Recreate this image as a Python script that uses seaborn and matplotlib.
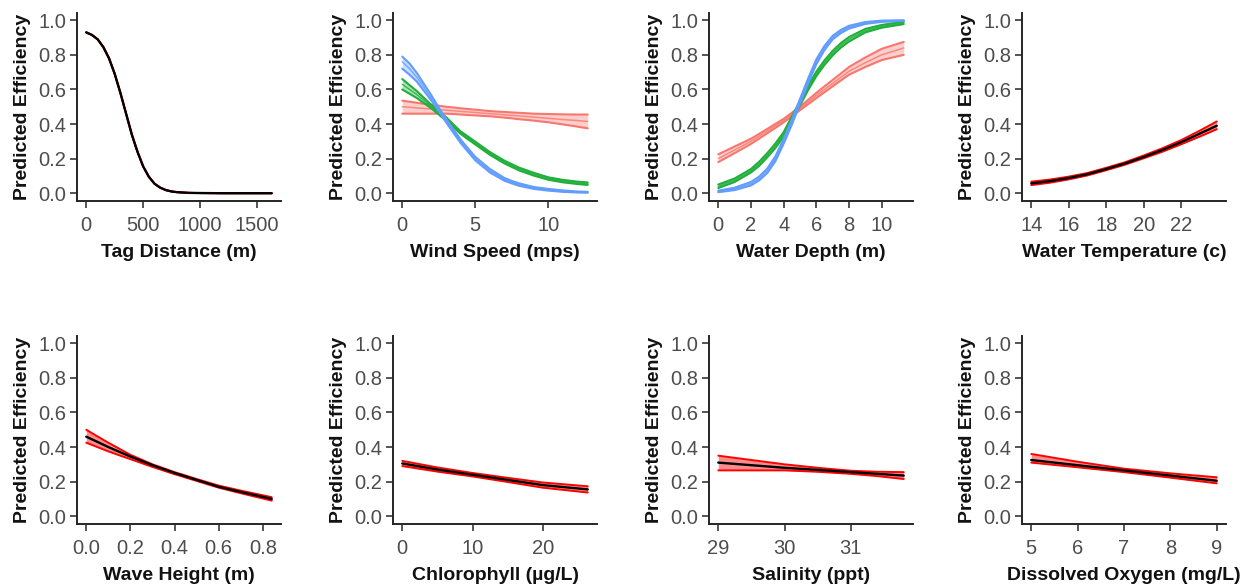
import matplotlib.pyplot as plt
import seaborn as sns

sns.set_style("ticks")
plt.rcParams['font.family'] = ['Liberation Sans', 'DejaVu Sans']

# colours of the three groups (ggplot default hues)
RED, GREEN, BLUE = "#F8766D", "#1FAF3A", "#619CFF"

# ---- values ----
# Tag Distance
tag_x = [0, 50, 100, 150, 200, 250, 300, 350, 400, 450, 500, 550, 600, 650, 700,
         750, 800, 900, 1000, 1200, 1400, 1630]
tag_mid = [0.93, 0.915, 0.89, 0.845, 0.78, 0.69, 0.58, 0.46, 0.34, 0.24, 0.155, 0.095,
           0.055, 0.032, 0.018, 0.01, 0.006, 0.002, 0.001, 0.0, 0.0, 0.0]

# Wind Speed, three groups
wind_x = [0, 0.5, 1, 1.5, 2, 2.5, 3, 3.5, 4, 4.5, 5, 5.5, 6, 6.5, 7, 7.5, 8,
          9, 10, 11, 12, 12.7]
wind_blue = [0.76, 0.72, 0.67, 0.61, 0.55, 0.485, 0.42, 0.36, 0.30, 0.25, 0.20, 0.165,
             0.13, 0.105, 0.08, 0.064, 0.05, 0.03, 0.02, 0.012, 0.007, 0.005]
wind_blue_lo = [0.72, 0.685, 0.645, 0.59, 0.535, 0.475, 0.41, 0.35, 0.29, 0.24, 0.19, 0.155,
                0.12, 0.096, 0.072, 0.057, 0.043, 0.025, 0.015, 0.008, 0.004, 0.003]
wind_blue_hi = [0.79, 0.75, 0.695, 0.63, 0.565, 0.495, 0.43, 0.37, 0.31, 0.26, 0.21, 0.175,
                0.14, 0.114, 0.088, 0.071, 0.057, 0.036, 0.025, 0.016, 0.01, 0.008]
wind_green = [0.63, 0.60, 0.57, 0.535, 0.50, 0.465, 0.43, 0.39, 0.35, 0.32, 0.29, 0.26,
              0.23, 0.205, 0.18, 0.16, 0.14, 0.11, 0.085, 0.07, 0.06, 0.055]
wind_green_lo = [0.60, 0.575, 0.55, 0.52, 0.49, 0.455, 0.42, 0.382, 0.343, 0.312, 0.282, 0.252,
                 0.222, 0.197, 0.172, 0.152, 0.132, 0.102, 0.078, 0.063, 0.053, 0.048]
wind_green_hi = [0.66, 0.625, 0.59, 0.55, 0.51, 0.475, 0.44, 0.398, 0.357, 0.328, 0.298, 0.268,
                 0.238, 0.213, 0.188, 0.168, 0.148, 0.118, 0.092, 0.077, 0.067, 0.062]
wind_red = [0.50, 0.497, 0.493, 0.49, 0.487, 0.483, 0.48, 0.477, 0.473, 0.47, 0.467, 0.463,
            0.46, 0.457, 0.453, 0.45, 0.447, 0.44, 0.433, 0.426, 0.42, 0.415]
wind_red_lo = [0.46, 0.46, 0.46, 0.46, 0.46, 0.46, 0.46, 0.458, 0.455, 0.452, 0.45, 0.447,
               0.445, 0.441, 0.437, 0.433, 0.428, 0.42, 0.41, 0.398, 0.385, 0.375]
wind_red_hi = [0.535, 0.529, 0.523, 0.517, 0.512, 0.506, 0.50, 0.496, 0.491, 0.487, 0.483, 0.479,
               0.475, 0.472, 0.47, 0.467, 0.465, 0.46, 0.458, 0.456, 0.455, 0.455]

# Water Depth, three groups
depth_x = [0, 1, 2, 2.5, 3, 3.5, 4, 4.5, 5, 5.5, 6, 6.5, 7, 7.5, 8, 9, 10, 11.35]
depth_blue = [0.01, 0.025, 0.055, 0.085, 0.13, 0.20, 0.30, 0.41, 0.53, 0.65, 0.76, 0.84,
              0.90, 0.935, 0.96, 0.985, 0.995, 0.999]
depth_blue_lo = [0.006, 0.018, 0.045, 0.074, 0.117, 0.186, 0.286, 0.396, 0.516, 0.636, 0.746, 0.828,
                 0.89, 0.926, 0.952, 0.979, 0.991, 0.996]
depth_blue_hi = [0.015, 0.032, 0.065, 0.096, 0.143, 0.214, 0.314, 0.424, 0.544, 0.664, 0.774, 0.852,
                 0.91, 0.944, 0.968, 0.99, 0.998, 1.0]
depth_green = [0.04, 0.075, 0.13, 0.17, 0.22, 0.275, 0.34, 0.43, 0.52, 0.61, 0.69, 0.755,
               0.81, 0.855, 0.89, 0.94, 0.965, 0.985]
depth_green_lo = [0.03, 0.065, 0.12, 0.158, 0.208, 0.262, 0.327, 0.417, 0.507, 0.597, 0.677, 0.742,
                  0.797, 0.842, 0.877, 0.93, 0.957, 0.978]
depth_green_hi = [0.05, 0.085, 0.14, 0.182, 0.232, 0.288, 0.353, 0.443, 0.533, 0.623, 0.703, 0.768,
                  0.823, 0.868, 0.903, 0.95, 0.973, 0.992]
depth_red = [0.20, 0.25, 0.30, 0.33, 0.36, 0.39, 0.42, 0.455, 0.49, 0.527, 0.565, 0.60,
             0.635, 0.67, 0.705, 0.755, 0.80, 0.84]
depth_red_lo = [0.18, 0.232, 0.285, 0.316, 0.347, 0.378, 0.41, 0.445, 0.48, 0.515, 0.55, 0.584,
                0.618, 0.652, 0.685, 0.73, 0.77, 0.80]
depth_red_hi = [0.225, 0.27, 0.315, 0.343, 0.372, 0.401, 0.43, 0.465, 0.50, 0.54, 0.58, 0.618,
                0.655, 0.692, 0.73, 0.785, 0.835, 0.875]

# Water Temperature
temp_x = [14, 15, 16, 17, 18, 19, 20, 21, 22, 23, 23.9]
temp_mid = [0.057, 0.07, 0.088, 0.11, 0.14, 0.172, 0.21, 0.25, 0.295, 0.345, 0.39]
temp_lo = [0.047, 0.061, 0.08, 0.103, 0.133, 0.165, 0.202, 0.24, 0.283, 0.328, 0.37]
temp_hi = [0.067, 0.079, 0.096, 0.117, 0.147, 0.179, 0.218, 0.26, 0.307, 0.362, 0.415]

# Wave Height
wave_x = [0, 0.05, 0.1, 0.15, 0.2, 0.3, 0.4, 0.5, 0.6, 0.7, 0.84]
wave_mid = [0.46, 0.43, 0.40, 0.372, 0.345, 0.295, 0.25, 0.21, 0.17, 0.14, 0.10]
wave_lo = [0.425, 0.40, 0.375, 0.352, 0.33, 0.285, 0.243, 0.204, 0.165, 0.133, 0.09]
wave_hi = [0.50, 0.462, 0.425, 0.39, 0.355, 0.30, 0.255, 0.215, 0.177, 0.148, 0.11]

# Chlorophyll
chl_x = [0, 5, 10, 15, 20, 26.4]
chl_mid = [0.305, 0.27, 0.24, 0.21, 0.18, 0.155]
chl_lo = [0.29, 0.258, 0.23, 0.198, 0.165, 0.137]
chl_hi = [0.32, 0.282, 0.25, 0.222, 0.195, 0.173]

# Salinity
sal_x = [29, 29.5, 30, 30.5, 31, 31.4, 31.8]
sal_mid = [0.31, 0.295, 0.28, 0.268, 0.255, 0.245, 0.235]
sal_lo = [0.265, 0.265, 0.265, 0.257, 0.245, 0.232, 0.215]
sal_hi = [0.35, 0.325, 0.30, 0.28, 0.263, 0.257, 0.255]

# Dissolved Oxygen
do_x = [5, 6, 7, 8, 9]
do_mid = [0.325, 0.295, 0.265, 0.235, 0.205]
do_lo = [0.31, 0.283, 0.255, 0.223, 0.19]
do_hi = [0.36, 0.315, 0.275, 0.248, 0.225]

panels = [
    ("Tag Distance (m)", [0, 500, 1000, 1500], None,
     [(tag_x, tag_mid, tag_mid, tag_mid, "black")]),
    ("Wind Speed (mps)", [0, 5, 10], None,
     [(wind_x, wind_red_lo, wind_red, wind_red_hi, RED),
      (wind_x, wind_green_lo, wind_green, wind_green_hi, GREEN),
      (wind_x, wind_blue_lo, wind_blue, wind_blue_hi, BLUE)]),
    ("Water Depth (m)", [0, 2, 4, 6, 8, 10], None,
     [(depth_x, depth_red_lo, depth_red, depth_red_hi, RED),
      (depth_x, depth_green_lo, depth_green, depth_green_hi, GREEN),
      (depth_x, depth_blue_lo, depth_blue, depth_blue_hi, BLUE)]),
    ("Water Temperature (c)", [14, 16, 18, 20, 22], None,
     [(temp_x, temp_lo, temp_mid, temp_hi, "black")]),
    ("Wave Height (m)", [0, 0.2, 0.4, 0.6, 0.8], "{:.1f}",
     [(wave_x, wave_lo, wave_mid, wave_hi, "black")]),
    ("Chlorophyll (µg/L)", [0, 10, 20], None,
     [(chl_x, chl_lo, chl_mid, chl_hi, "black")]),
    ("Salinity (ppt)", [29, 30, 31], None,
     [(sal_x, sal_lo, sal_mid, sal_hi, "black")]),
    ("Dissolved Oxygen (mg/L)", [5, 6, 7, 8, 9], None,
     [(do_x, do_lo, do_mid, do_hi, "black")]),
]

W, H = 1252, 585
fig = plt.figure(figsize=(W / 100, H / 100), dpi=100)
lefts = [77, 393, 709, 1022]
bottoms = [201, 524]
aw, ah = 204, 188.5

for i, (xlabel, xticks, fmt, curves) in enumerate(panels):
    row, col = divmod(i, 4)
    ax = fig.add_axes([lefts[col] / W, 1 - bottoms[row] / H, aw / W, ah / H])
    for xs, lo, mid, hi, c in curves:
        if c == "black":
            ax.fill_between(xs, lo, hi, color="red", alpha=0.45, lw=0)
            sns.lineplot(x=xs, y=lo, color="red", lw=1.4, ax=ax)
            sns.lineplot(x=xs, y=hi, color="red", lw=1.4, ax=ax)
            sns.lineplot(x=xs, y=mid, color="black", lw=1.7, ax=ax)
        else:
            ax.fill_between(xs, lo, hi, color=c, alpha=0.35, lw=0)
            sns.lineplot(x=xs, y=lo, color=c, lw=1.5, ax=ax)
            sns.lineplot(x=xs, y=hi, color=c, lw=1.5, ax=ax)
            sns.lineplot(x=xs, y=mid, color=c, lw=1.1, alpha=0.8, ax=ax)
    xmin, xmax = curves[0][0][0], curves[0][0][-1]
    pad = (xmax - xmin) * 0.05
    ax.set_xlim(xmin - pad, xmax + pad)
    ax.set_ylim(-0.045, 1.045)
    ax.set_xticks(xticks)
    if fmt:
        ax.set_xticklabels([fmt.format(t) for t in xticks])
    ax.set_yticks([0, 0.2, 0.4, 0.6, 0.8, 1.0])
    ax.set_yticklabels(["0.0", "0.2", "0.4", "0.6", "0.8", "1.0"])
    ax.set_xlabel(xlabel, fontsize=14, fontweight="bold", labelpad=6, color="#111111")
    ax.set_ylabel("Predicted Efficiency", fontsize=14, fontweight="bold", labelpad=5,
                  color="#111111")
    ax.tick_params(labelsize=14.5, labelcolor="#4D4D4D", length=5, width=1.1)
    ax.tick_params(axis="x", pad=6)
    ax.tick_params(axis="y", pad=3)
    for s in ["left", "bottom"]:
        ax.spines[s].set_linewidth(1.4)
    sns.despine(ax=ax)

fig.savefig("out.png", dpi=100)
